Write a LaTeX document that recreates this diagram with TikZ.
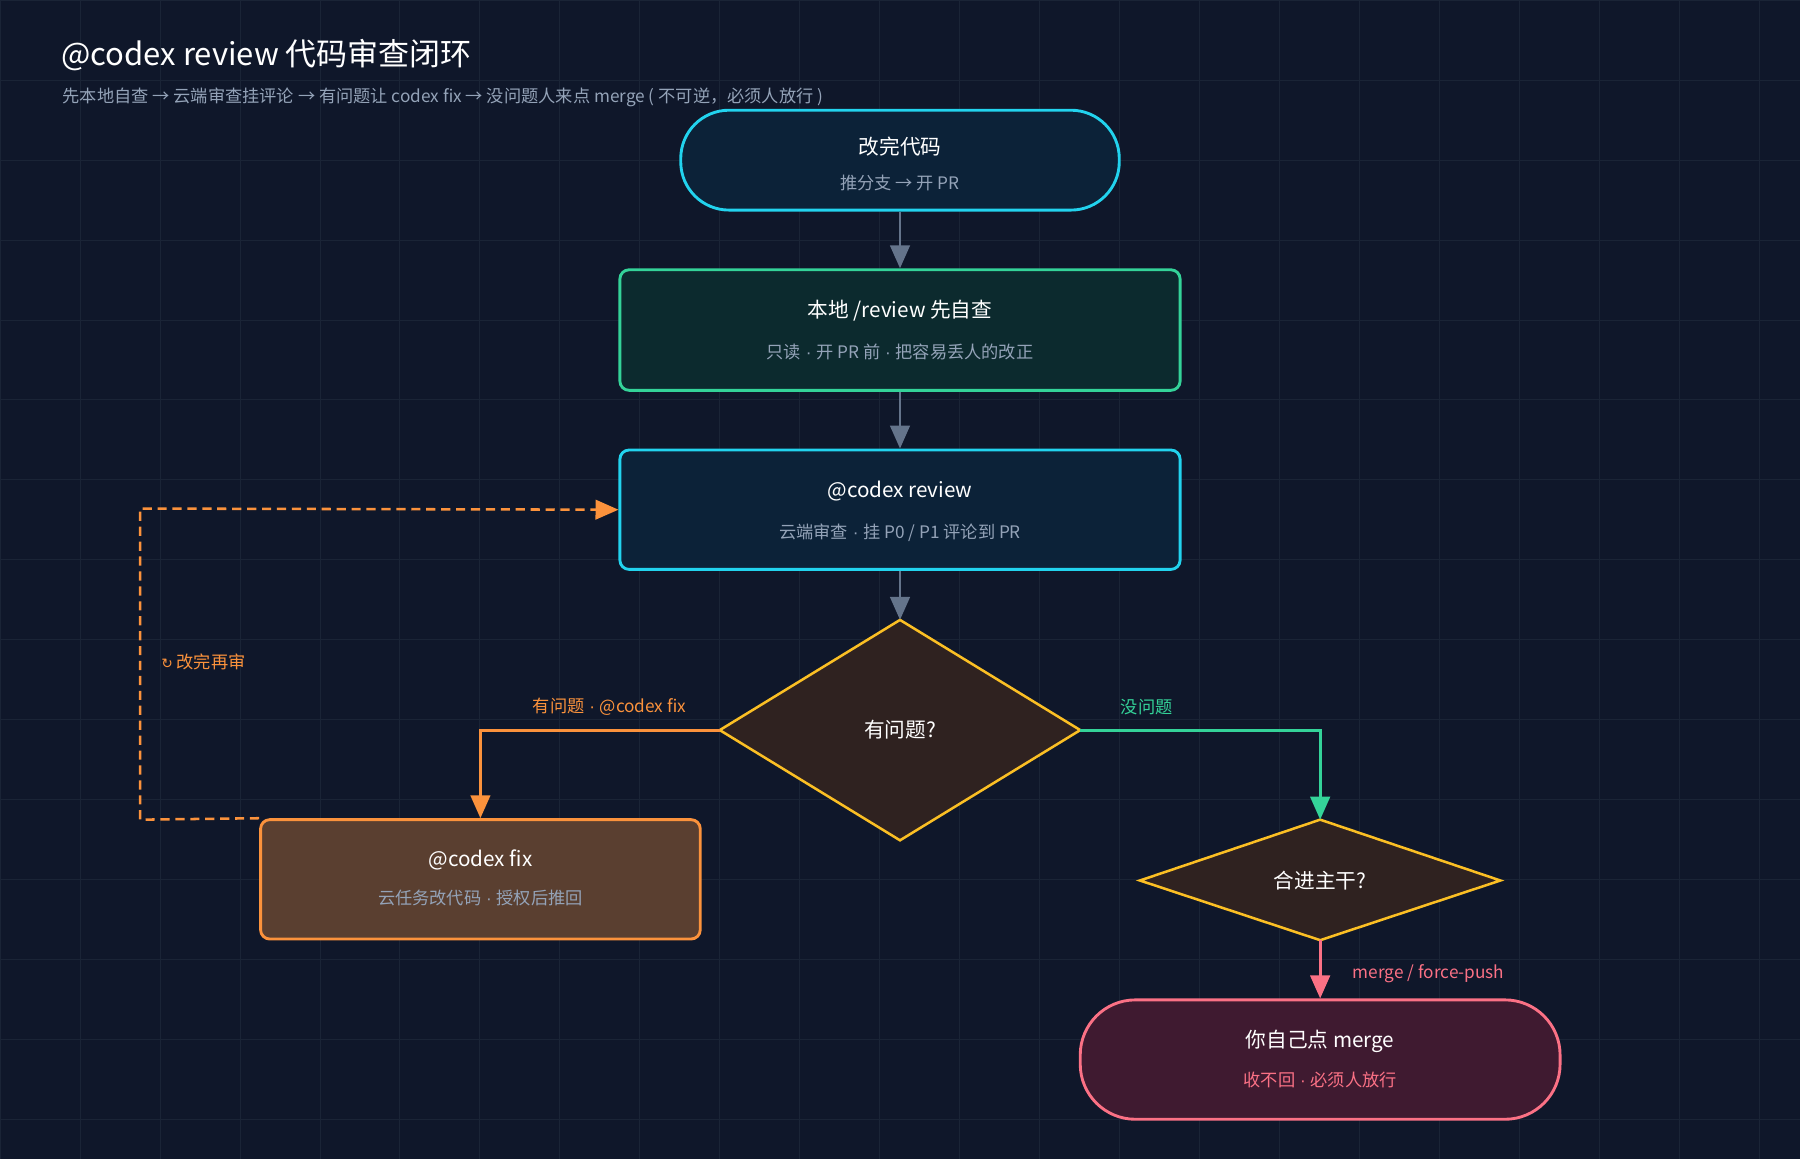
\documentclass[tikz,border=0pt]{standalone}
\usepackage{fontspec}
\setmainfont{Noto Sans CJK SC}
\newfontfamily\latf{Liberation Sans}
\newfontfamily\dvf{DejaVu Sans}
\newcommand{\md}{{\latf\ ·\ }}
\usetikzlibrary{arrows.meta,shapes.geometric}
\definecolor{bg}{HTML}{0F172A}
\definecolor{gridc}{HTML}{1A2436}
\definecolor{cyanc}{HTML}{22D3EE}
\definecolor{cyanf}{HTML}{0C2238}
\definecolor{greenc}{HTML}{34D399}
\definecolor{greenf}{HTML}{0C2A2E}
\definecolor{yelc}{HTML}{FBBF24}
\definecolor{yelf}{HTML}{2F2220}
\definecolor{orac}{HTML}{FB923C}
\definecolor{oraf}{HTML}{5A3F30}
\definecolor{pinc}{HTML}{FB7185}
\definecolor{pinf}{HTML}{3F1A30}
\definecolor{grayc}{HTML}{64748B}
\definecolor{subc}{HTML}{94A3B8}
\begin{document}
\begin{tikzpicture}[x=1pt,y=-1pt,
  box/.style={draw,line width=2.5pt,rounded corners=8pt,inner sep=0pt},
  stad/.style={draw,line width=2.5pt,rounded corners=42pt,inner sep=0pt},
  dia/.style={draw=yelc,fill=yelf,line width=2.2pt},
  main/.style={text=white,font=\fontsize{18}{20}\selectfont},
  sub/.style={text=subc,font=\fontsize{15}{16}\selectfont},
  lab/.style={font=\fontsize{15}{16}\selectfont},
  arr/.style={line width=2.5pt,-{Triangle[length=20pt,width=17pt]}},
]
\useasboundingbox (0,0) rectangle (1568,1010);
\fill[bg] (0,0) rectangle (1568,1010);
\foreach \i in {0,...,22} \draw[gridc,line width=0.8pt] (\i*69.68,0) -- (\i*69.68,1010);
\foreach \i in {0,...,14} \draw[gridc,line width=0.8pt] (0,\i*69.68) -- (1568,\i*69.68);

\node[anchor=west,text=white,font=\fontsize{27}{30}\selectfont] (title) at (50,48) {@codex review 代码审查闭环};
\node[anchor=west,text=subc,font=\fontsize{15}{16}\selectfont] (subtitle) at (51,85) {先本地自查 → 云端审查挂评论 → 有问题让 codex fix → 没问题人来点 merge ( 不可逆，必须人放行 )};

% nodes
\node[stad,draw=cyanc,fill=cyanf,minimum width=382pt,minimum height=87pt] (start) at (784,139.5) {};
\node[main] (startT) at (784,128) {改完代码};
\node[sub] (startS) at (784,159) {推分支 → 开 PR};

\node[box,draw=greenc,fill=greenf,minimum width=488pt,minimum height=105pt] (local) at (784,287.5) {};
\node[main] (localT) at (784,271) {本地 /review 先自查};
\node[sub] (localS) at (784,307) {只读\md 开 PR 前\md 把容易丢人的改正};

\node[box,draw=cyanc,fill=cyanf,minimum width=488pt,minimum height=104pt] (review) at (784,444) {};
\node[main] (reviewT) at (784,428) {@codex review};
\node[sub] (reviewS) at (784,464) {云端审查\md 挂 P0 / P1 评论到 PR};

\coordinate (dc) at (784,636);
\draw[dia] (627,636) coordinate (dL) -- (784,540) coordinate (dT) -- (941,636) coordinate (dR) -- (784,732) coordinate (dB) -- cycle;
\node[main] (q1) at (dc) {有问题?};

\node[box,draw=orac,fill=oraf,minimum width=383pt,minimum height=104pt] (fix) at (418.5,766) {};
\node[main] (fixT) at (418.5,749) {@codex fix};
\node[sub] (fixS) at (418.5,782) {云任务改代码\md 授权后推回};

\draw[dia] (993,767) coordinate (eL) -- (1150,714) coordinate (eT) -- (1307,767) coordinate (eR) -- (1150,819) coordinate (eB) -- cycle;
\node[main] (q2) at (1150,767) {合进主干?};

\node[stad,draw=pinc,fill=pinf,minimum width=418pt,minimum height=104pt,rounded corners=48pt] (merge) at (1150,923) {};
\node[main] (mergeT) at (1150,907) {你自己点 merge};
\node[lab,text=pinc] (mergeS) at (1150,941) {收不回\md 必须人放行};

% connectors
\draw[arr,grayc] (start.south) -- (local.north);
\draw[arr,grayc] (local.south) -- (review.north);
\draw[arr,grayc] (review.south) -- (dT);
\draw[arr,orac] (dL) -| (fix.north);
\node[lab,text=orac] (l1) at (531,616) {有问题\md @codex fix};
\draw[arr,greenc] (dR) -| (eT);
\node[lab,text=greenc] (l2) at (999,616) {没问题};
\draw[arr,pinc] (eB) -- (merge.north);
\node[lab,text=pinc,anchor=west] (l3) at (1175,848) {merge / force-push};
\coordinate (c1) at (122,714);
\coordinate (c2) at (122,443);
\draw[orac,line width=2.2pt,dash pattern=on 8pt off 5pt,-{Triangle[length=20pt,width=17pt]}] (fix.north west) -- (c1) -- (c2) -- (review.west);
\node[lab,text=orac,anchor=west] (l4) at (137,577) {{\dvf\fontsize{12}{14}\selectfont ↻} 改完再审};
\end{tikzpicture}
\end{document}
